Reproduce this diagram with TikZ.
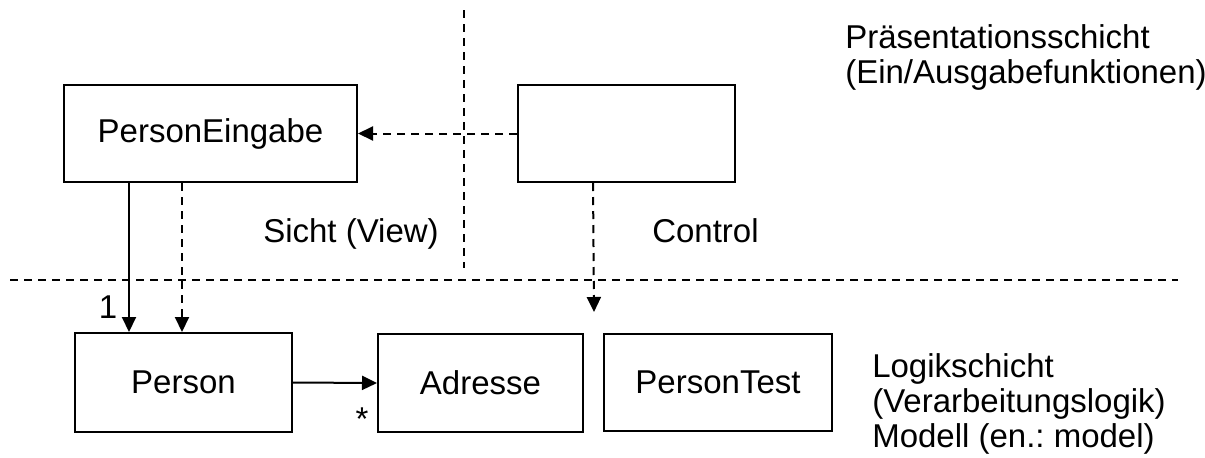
\documentclass[tikz,border=0pt]{standalone}
\usepackage{fontspec}
\setmainfont{Liberation Sans}
\usetikzlibrary{arrows.meta,calc}
\frenchspacing
\begin{document}
\begin{tikzpicture}[x=0.75pt,y=-0.75pt,
  box/.style={draw, line width=1.5pt, inner sep=0pt,
    font=\fontsize{24.75}{26}\selectfont},
  conn/.style={line width=1.5pt, -{Triangle[length=11.25pt,width=10.5pt]}},
  dashline/.style={line width=1.5pt, dash pattern=on 6pt off 4.5pt},
  lbl/.style={inner sep=0pt, anchor=base west, font=\fontsize{24.75}{26}\selectfont},
  mult/.style={inner sep=0pt, anchor=base, font=\fontsize{24.75}{26}\selectfont}]
\useasboundingbox (0,0) rectangle (1205,457);

% layer separators
\coordinate (hl) at (10,280);
\coordinate (hr) at (1178,280);
\coordinate (vt) at (464,10);
\coordinate (vb) at (464,268);
\draw[dashline] (hl) -- (hr);
\draw[dashline] (vt) -- (vb);

% classes
\node[box, minimum width={293*0.75pt}, minimum height={97*0.75pt}] (pe) at (210.5,133.5) {PersonEingabe};
\node[box, minimum width={217*0.75pt}, minimum height={97*0.75pt}] (ctl) at (626.5,133.5) {};
\node[box, minimum width={217*0.75pt}, minimum height={99*0.75pt}] (person) at (183.5,382.5) {Person};
\node[box, minimum width={205*0.75pt}, minimum height={98*0.75pt}] (adr) at (480.5,383) {Adresse};
\node[box, minimum width={228*0.75pt}, minimum height={97*0.75pt}] (pt) at (718,382.5) {PersonTest};

% connectors
\draw[conn] ($(pe.south west)+(66,0)$) -- ($(person.north west)+(55,0)$);
\draw[conn, dashline] ($(pe.south west)+(119,0)$) -- ($(person.north west)+(108,0)$);
\draw[conn] (person.east) -- (adr.west);
\draw[conn, dashline] (ctl.west) -- (pe.east);
\coordinate (ctip) at (594,312);
\draw[conn, dashline] ($(ctl.south west)+(76,0)$) -- (ctip);

% multiplicities
\node[mult] (m1) at (108,318) {1};
\node[mult] (m2) at (362,430) {*};

% layer labels
\node[lbl] (sicht) at (263,242) {Sicht (View)};
\node[lbl] (control) at (652,242) {Control};
\node[lbl] (pres1) at (845,48) {Präsentationsschicht};
\node[lbl] (pres2) at (845,83) {(Ein/Ausgabefunktionen)};
\node[lbl] (log1) at (872,377) {Logikschicht};
\node[lbl] (log2) at (872,412) {(Verarbeitungslogik)};
\node[lbl] (log3) at (872,447) {Modell (en.: model)};
\end{tikzpicture}
\end{document}
